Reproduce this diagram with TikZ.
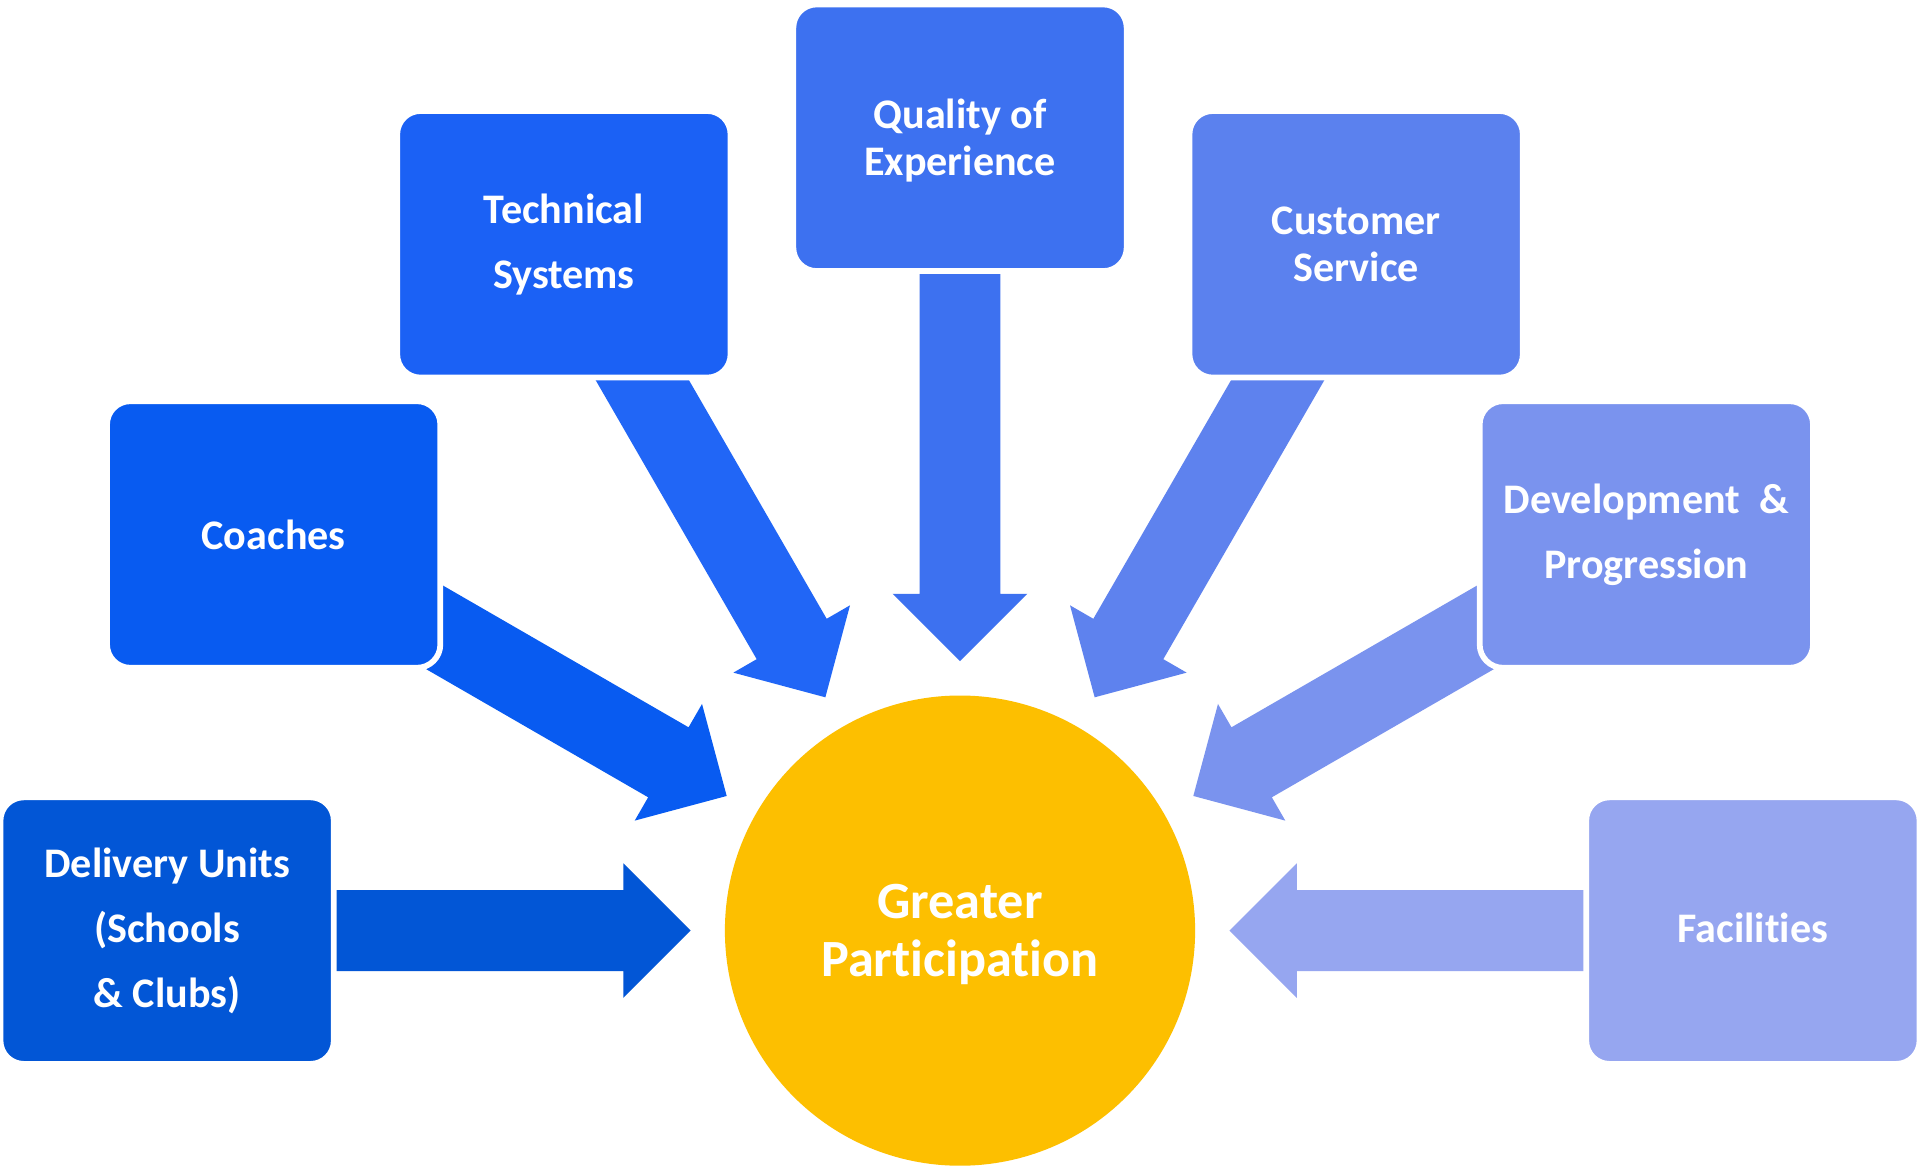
\documentclass[tikz,border=0pt]{standalone}
\usepackage{fontspec}
\setmainfont{Carlito}[Ligatures=NoCommon]
\usetikzlibrary{calc,backgrounds}
\definecolor{cDel}{HTML}{0256D6}
\definecolor{cCoa}{HTML}{085BF1}
\definecolor{cTec}{HTML}{1B61F5}
\definecolor{cTecA}{HTML}{2166F6}
\definecolor{cQua}{HTML}{3D71F0}
\definecolor{cCus}{HTML}{5B81EE}
\definecolor{cCusA}{HTML}{5E82EE}
\definecolor{cDev}{HTML}{7A93EE}
\definecolor{cFac}{HTML}{96A6F0}
\definecolor{cGP}{HTML}{FDBF00}
\tikzset{
  box/.style={rectangle, rounded corners=19pt, draw=white, line width=4.7pt,
    minimum width=272.2pt, minimum height=217.7pt, inner sep=0pt,
    text=white, align=center, font=\bfseries\fontsize{34.4}{53}\selectfont},
  tightbox/.style={font=\bfseries\fontsize{34.4}{38}\selectfont},
  hub/.style={circle, fill=cGP, minimum size=384pt, inner sep=0pt,
    text=white, align=center, font=\bfseries\fontsize{42.7}{47.4}\selectfont}
}
% block arrow from box #1 towards the hub, colour #2
\newcommand{\gparrow}[2]{%
  \path ($(gp.center)!220pt!(#1.center)$) coordinate (#1-tip)
        ($(gp.center)!275pt!(#1.center)$) coordinate (#1-head);
  \fill[#2] ($(#1.center)!33pt!-90:(#1-head)$)
    -- ($(#1-head)!33pt!90:(#1.center)$)
    -- ($(#1-head)!55pt!90:(#1.center)$)
    -- (#1-tip)
    -- ($(#1-head)!55pt!-90:(#1.center)$)
    -- ($(#1-head)!33pt!-90:(#1.center)$)
    -- ($(#1.center)!33pt!90:(#1-head)$) -- cycle;
}
\begin{document}
\begin{tikzpicture}[x=1pt,y=-1pt]
\useasboundingbox (0,0) rectangle (1568,952);
\node[hub] (gp) at (784,760) {\rule{0pt}{35pt}Greater\\Participation};
\node[box, fill=cDel] (del) at (136.5,760) {Delivery Units\\(Schools\\\& Clubs)};
\node[box, fill=cCoa] (coa) at (223.5,436.5) {Coaches};
\node[box, fill=cTec] (tec) at (460.5,199.5) {Technical\\Systems};
\node[box, fill=cQua, tightbox] (qua) at (784,112.5) {\rule{0pt}{28.5pt}Quality of\\Experience};
\node[box, fill=cCus, tightbox] (cus) at (1107.5,199.5) {Customer\\Service};
\node[box, fill=cDev] (dev) at (1344.5,436.5) {Development~~\&\\Progression};
\node[box, fill=cFac] (fac) at (1431.5,760) {Facilities\rule[-4pt]{0pt}{4pt}};
\begin{pgfonlayer}{background}
  \fill[white] (0,0) rectangle (1568,952);
  \gparrow{del}{cDel}
  \gparrow{coa}{cCoa}
  \gparrow{tec}{cTecA}
  \gparrow{qua}{cQua}
  \gparrow{cus}{cCusA}
  \gparrow{dev}{cDev}
  \gparrow{fac}{cFac}
\end{pgfonlayer}
\end{tikzpicture}
\end{document}
